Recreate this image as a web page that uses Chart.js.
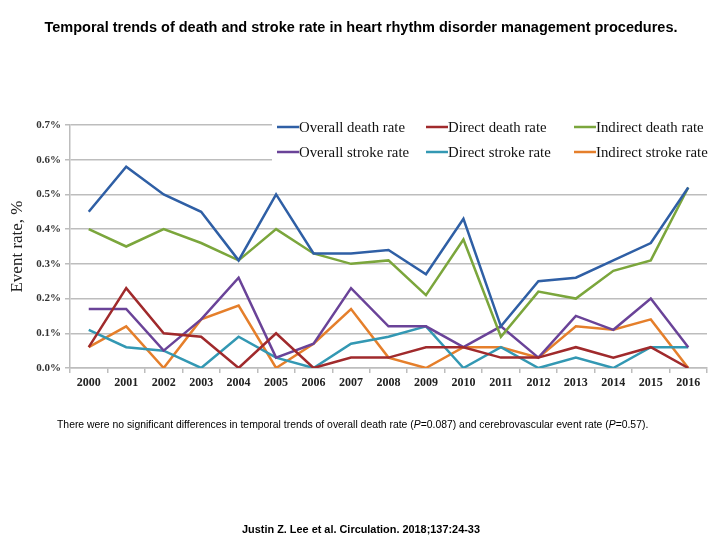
<!DOCTYPE html>
<html>
<head>
<meta charset="utf-8">
<script src="https://cdn.jsdelivr.net/npm/chart.js@4"></script>
<style>
  html, body { margin:0; padding:0; background:#fff; }
  #wrap { position:relative; width:720px; height:540px; overflow:hidden; }
  #c { position:absolute; left:0; top:0; }
  .txt { position:absolute; font-family:"Liberation Sans", Arial, sans-serif; color:#000; white-space:nowrap; }
  #title { left:0; width:722px; text-align:center; top:19px; font-weight:bold; font-size:14.5px; }
  #note { left:57px; top:419px; font-size:10.4px; }
  #src { left:0; width:722px; text-align:center; top:523px; font-weight:bold; font-size:10.9px; }
</style>
</head>
<body>
<div id="wrap">
  <canvas id="c" width="720" height="540"></canvas>
  <div id="title" class="txt">Temporal trends of death and stroke rate in heart rhythm disorder management procedures.</div>
  <div id="note" class="txt">There were no significant differences in temporal trends of overall death rate (<i>P</i>=0.087) and cerebrovascular event rate (<i>P</i>=0.57).</div>
  <div id="src" class="txt">Justin Z. Lee et al. Circulation. 2018;137:24-33</div>
</div>
<script>
const years = ['2000','2001','2002','2003','2004','2005','2006','2007','2008','2009','2010','2011','2012','2013','2014','2015','2016'];
const overallDeath   = [0.45,0.58,0.50,0.45,0.31,0.50,0.33,0.33,0.34,0.27,0.43,0.12,0.25,0.26,0.31,0.36,0.52];
const directDeath    = [0.06,0.23,0.10,0.09,0.00,0.10,0.00,0.03,0.03,0.06,0.06,0.03,0.03,0.06,0.03,0.06,0.00];
const indirectDeath  = [0.40,0.35,0.40,0.36,0.31,0.40,0.33,0.30,0.31,0.21,0.37,0.09,0.22,0.20,0.28,0.31,0.52];
const overallStroke  = [0.17,0.17,0.05,0.14,0.26,0.03,0.07,0.23,0.12,0.12,0.06,0.12,0.03,0.15,0.11,0.20,0.06];
const directStroke   = [0.11,0.06,0.05,0.00,0.09,0.03,0.00,0.07,0.09,0.12,0.00,0.06,0.00,0.03,0.00,0.06,0.06];
const indirectStroke = [0.06,0.12,0.00,0.14,0.18,0.00,0.07,0.17,0.03,0.00,0.06,0.06,0.03,0.12,0.11,0.14,0.00];
const yTicks = [0,0.1,0.2,0.3,0.4,0.5,0.6,0.7];

const seriesNames  = ['Overall death rate','Direct death rate','Indirect death rate','Overall stroke rate','Direct stroke rate','Indirect stroke rate'];
const seriesData   = [overallDeath, directDeath, indirectDeath, overallStroke, directStroke, indirectStroke];
const seriesColors = ['#2f5fa5','#a02a2c','#7ba63c','#6a4398','#3398b3','#e57f2b'];

const grid = '#bdbdbd';

const legendPlugin = {
  id: 'customLegend',
  afterDraw(chart) {
    const ctx = chart.ctx;
    ctx.save();
    ctx.fillStyle = '#fff';
    ctx.fillRect(272, 112, 446, 54);
    const cols = [277, 426, 574];
    const rows = [127, 152];
    ctx.font = '14.8px "Liberation Serif", "Times New Roman", serif';
    ctx.textBaseline = 'middle';
    ctx.textAlign = 'left';
    chart.data.datasets.forEach((ds, i) => {
      const x = cols[i % 3], y = rows[Math.floor(i / 3)];
      ctx.strokeStyle = ds.borderColor;
      ctx.lineWidth = 2.5;
      ctx.beginPath();
      ctx.moveTo(x, y);
      ctx.lineTo(x + 22, y);
      ctx.stroke();
      ctx.fillStyle = '#111';
      ctx.fillText(ds.label, x + 22, y + 1);
    });
    ctx.restore();
  }
};

new Chart(document.getElementById('c'), {
  type: 'line',
  data: {
    labels: years,
    datasets: seriesNames.map((n, i) => ({
      label: n,
      data: seriesData[i],
      borderColor: seriesColors[i],
      backgroundColor: seriesColors[i],
      borderWidth: 2.5,
      pointRadius: 0,
      tension: 0,
      fill: false
    }))
  },
  options: {
    responsive: false,
    animation: false,
    devicePixelRatio: 1,
    layout: { padding: { left: 0, right: 13, top: 125, bottom: 152 } },
    plugins: { legend: { display: false }, title: { display: false }, tooltip: { enabled: false } },
    scales: {
      x: {
        offset: true,
        afterFit(s) { s.height = 20; },
        grid: { display: true, drawOnChartArea: false, offset: true, tickLength: 5, color: grid, lineWidth: 1.5 },
        border: { display: true, color: grid, width: 1.5 },
        ticks: {
          font: { family: '"Liberation Serif", "Times New Roman", serif', size: 12, weight: 'bold' },
          color: '#222', padding: 3, maxRotation: 0, autoSkip: false
        }
      },
      y: {
        min: 0, max: 0.7,
        afterFit(s) { s.width = 70; },
        afterBuildTicks(s) { s.ticks = yTicks.map(v => ({ value: v })); },
        grid: { color: grid, lineWidth: 1.5, tickLength: 5 },
        border: { display: true, color: grid, width: 1.5 },
        ticks: {
          font: { family: '"Liberation Serif", "Times New Roman", serif', size: 11, weight: 'bold' },
          color: '#333', padding: 4,
          callback: v => v.toFixed(1) + '%'
        },
        title: {
          display: true, text: 'Event rate, %',
          font: { family: '"Liberation Serif", "Times New Roman", serif', size: 17 },
          color: '#222', padding: { top: 7, bottom: 0 }
        }
      }
    }
  },
  plugins: [legendPlugin]
});
</script>
</body>
</html>
